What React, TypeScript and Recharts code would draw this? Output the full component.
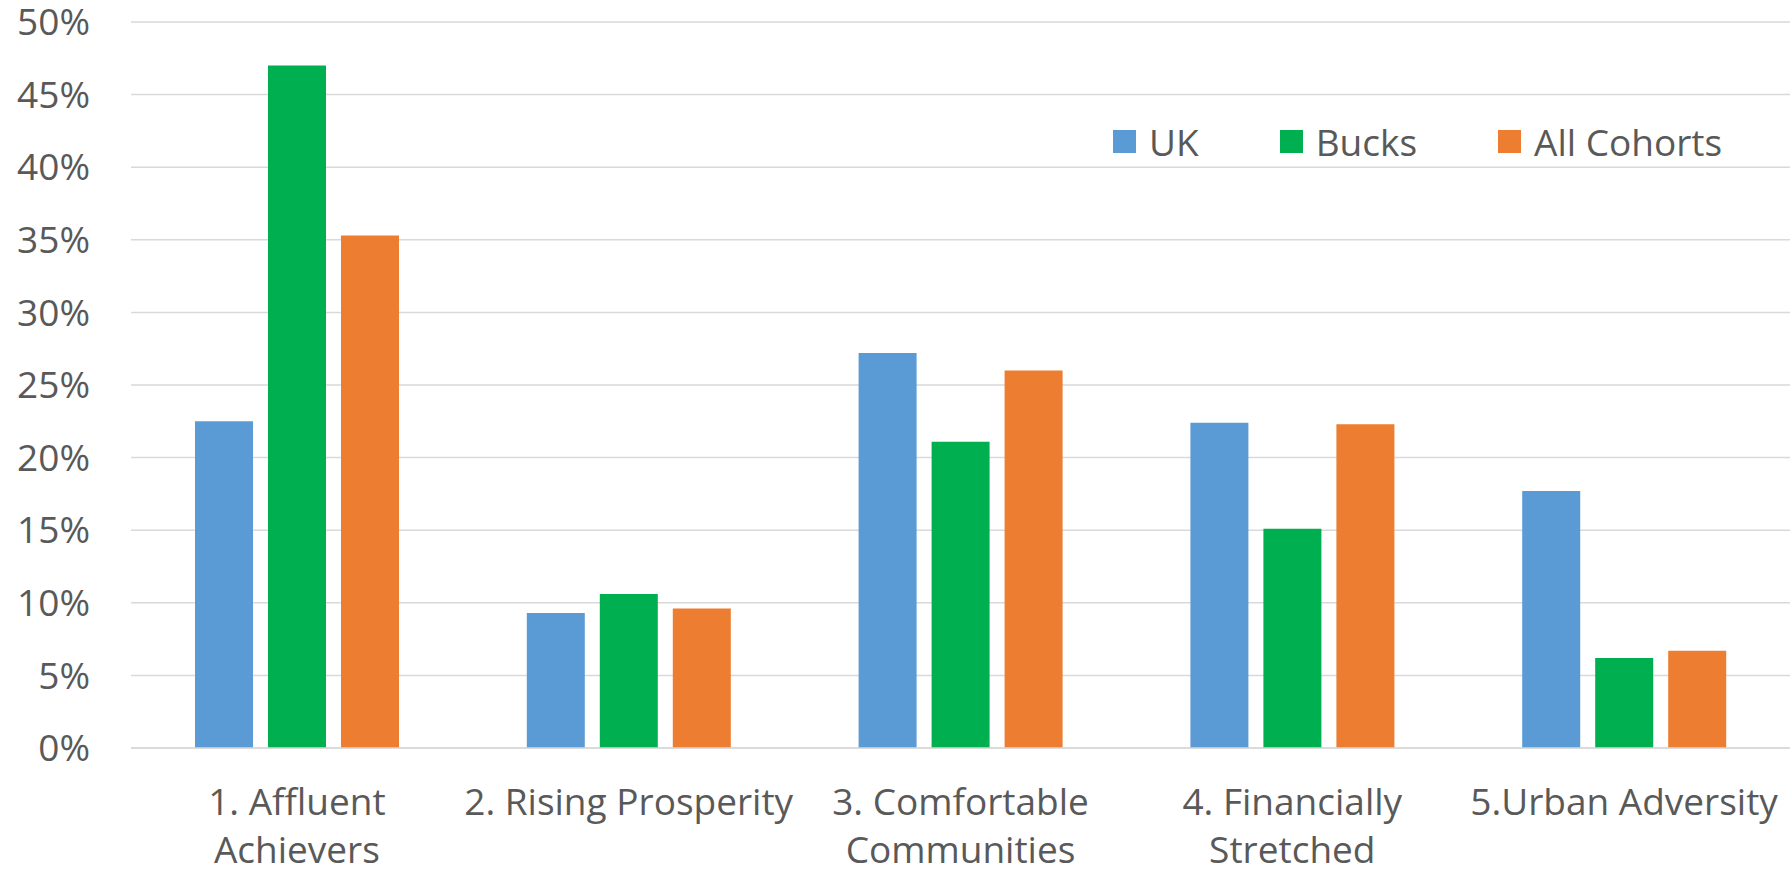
import { BarChart, Bar, XAxis, YAxis, CartesianGrid, Legend } from 'recharts';

const categories = ['1. Affluent\nAchievers', '2. Rising Prosperity', '3. Comfortable\nCommunities', '4. Financially\nStretched', '5.Urban Adversity'];
const seriesNames = ['UK', 'Bucks', 'All Cohorts'];
const ukValues = [22.5, 9.3, 27.2, 22.4, 17.7];
const bucksValues = [47.0, 10.6, 21.1, 15.1, 6.2];
const allCohortsValues = [35.3, 9.6, 26.0, 22.3, 6.7];
const yTicks = [0, 5, 10, 15, 20, 25, 30, 35, 40, 45, 50];

const FONT = '"Open Sans", sans-serif';
const TEXT = '#595959';
const COLORS = { uk: '#5B9BD5', bucks: '#00B050', all: '#ED7D31' };

const data = categories.map((name, i) => ({
  name,
  uk: ukValues[i],
  bucks: bucksValues[i],
  all: allCohortsValues[i],
}));

// category labels can hold a line break
function CategoryTick({ x, y, payload }: any) {
  const lines = String(payload.value).split('\n');
  return (
    <text x={x} y={y} textAnchor="middle" fill={TEXT} fontSize={37} fontFamily={FONT}>
      {lines.map((line, i) => (
        <tspan key={i} x={x} dy={i === 0 ? 67 : 48}>{line}</tspan>
      ))}
    </text>
  );
}

function LegendContent({ payload }: any) {
  const items = [...(payload || [])].sort(
    (a: any, b: any) => seriesNames.indexOf(a.value) - seriesNames.indexOf(b.value)
  );
  return (
    <div style={{ display: 'flex', alignItems: 'center', fontFamily: FONT, fontSize: 37, color: TEXT, whiteSpace: 'nowrap' }}>
      {items.map((entry: any, i: number) => (
        <div key={i} style={{ display: 'flex', alignItems: 'center', marginRight: i < items.length - 1 ? 81 : 0 }}>
          <span style={{ display: 'inline-block', width: 23, height: 23, background: entry.color, marginRight: 13 }} />
          <span>{entry.value}</span>
        </div>
      ))}
    </div>
  );
}

export default function App() {
  return (
    <div style={{ position: 'absolute', left: 0, top: 0, width: 1790, height: 873, background: '#fff' }}>
      <BarChart width={1790} height={873} data={data} margin={{ top: 22, right: 0, bottom: 0, left: 0 }} barSize={58} barGap={15}>
        <CartesianGrid vertical={false} stroke="#D9D9D9" strokeWidth={1.5} />
        <XAxis
          dataKey="name"
          height={125}
          interval={0}
          tickLine={false}
          tickSize={0}
          tickMargin={0}
          axisLine={{ stroke: '#D9D9D9', strokeWidth: 1.5 }}
          tick={<CategoryTick />}
        />
        <YAxis
          width={131}
          domain={[0, 50]}
          ticks={yTicks}
          interval={0}
          axisLine={false}
          tickLine={false}
          tickSize={0}
          tickMargin={41}
          tickFormatter={(v) => `${v}%`}
          tick={{ fill: TEXT, fontSize: 37, fontFamily: FONT }}
        />
        <Legend
          layout="horizontal"
          verticalAlign="middle"
          content={<LegendContent />}
          wrapperStyle={{ top: 116, left: 1113, width: 'auto' }}
        />
        <Bar dataKey="uk" name="UK" fill={COLORS.uk} isAnimationActive={false} />
        <Bar dataKey="bucks" name="Bucks" fill={COLORS.bucks} isAnimationActive={false} />
        <Bar dataKey="all" name="All Cohorts" fill={COLORS.all} isAnimationActive={false} />
      </BarChart>
    </div>
  );
}
